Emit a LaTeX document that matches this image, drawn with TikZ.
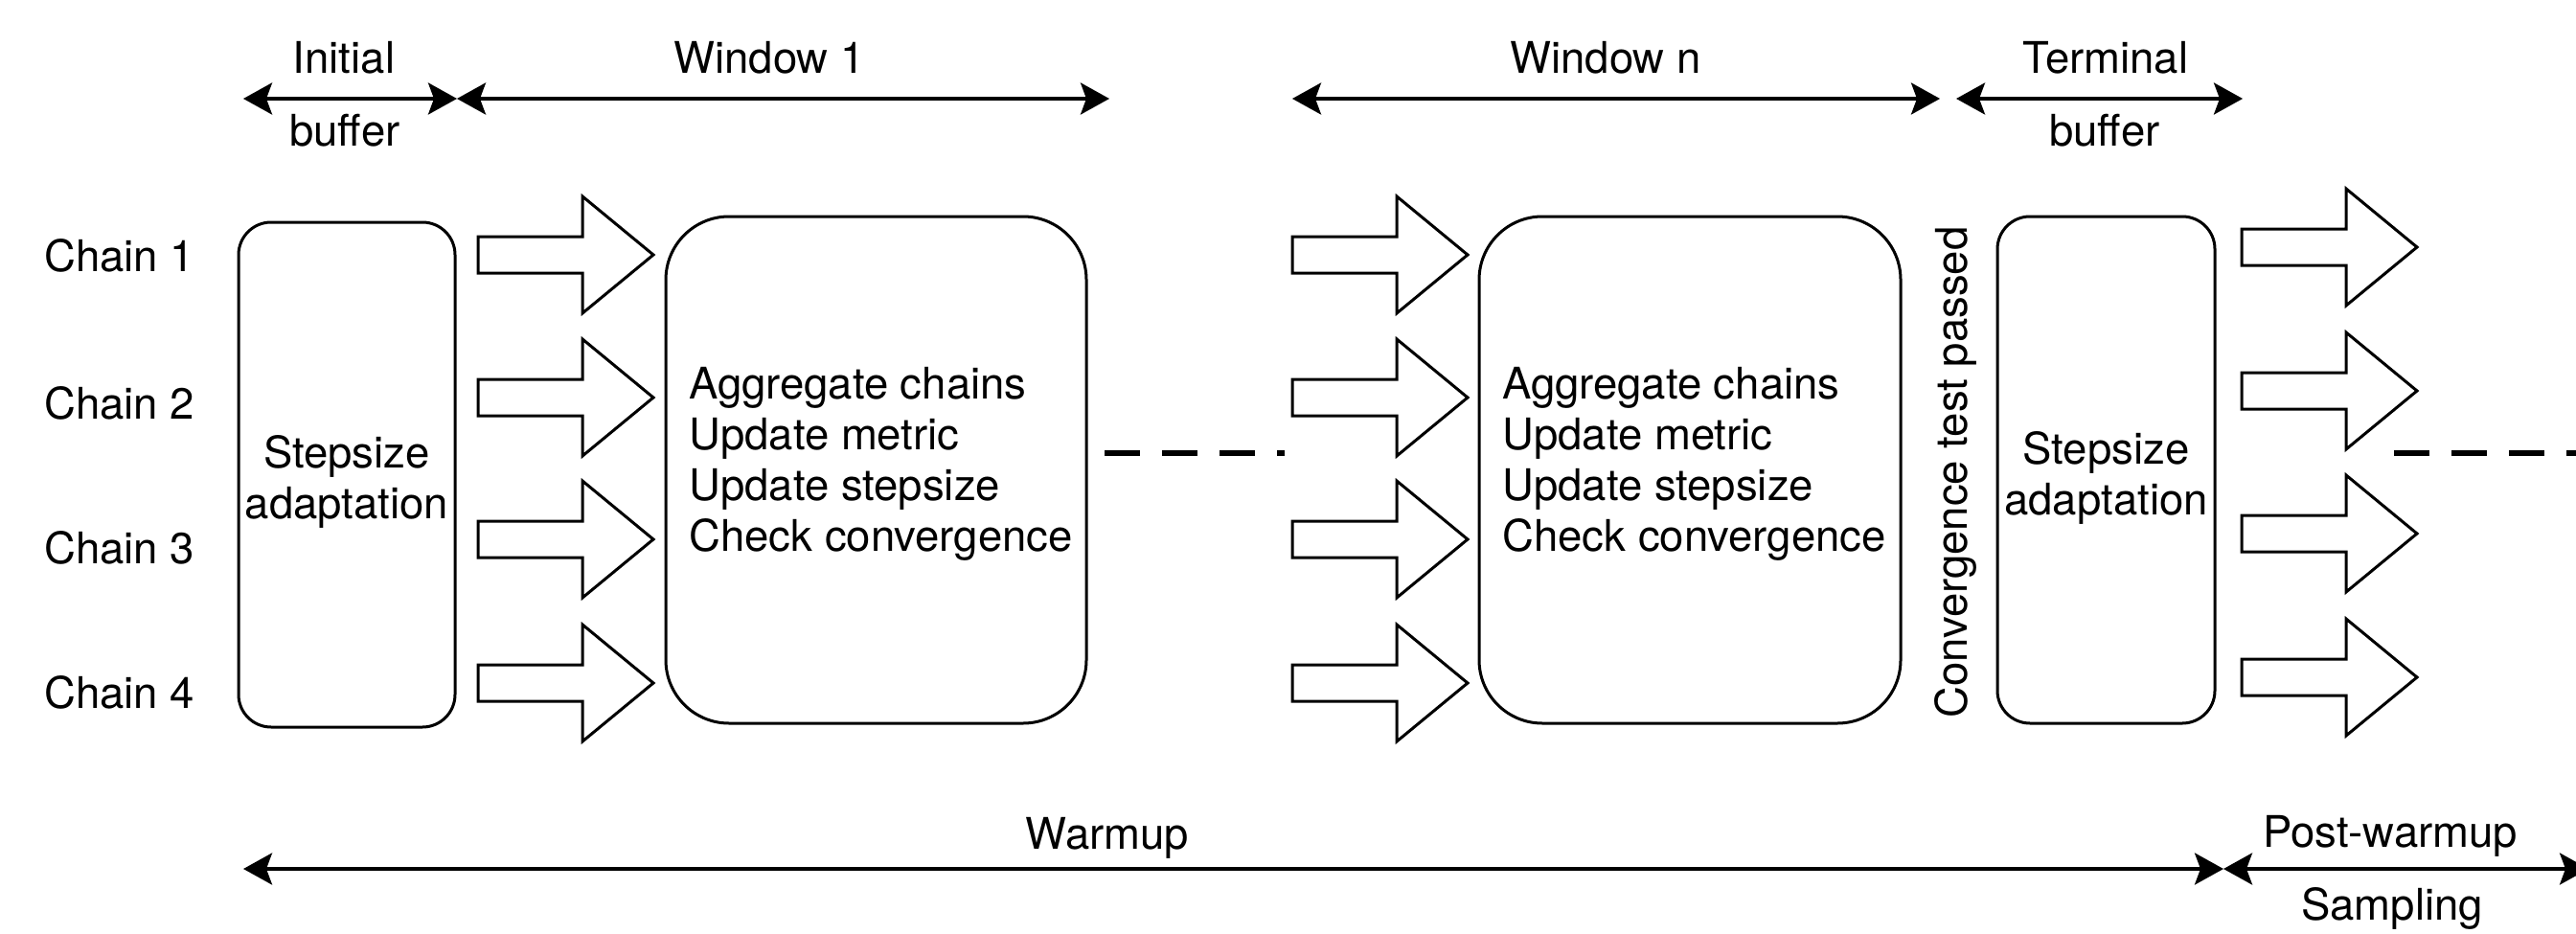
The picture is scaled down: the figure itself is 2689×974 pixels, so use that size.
\documentclass[tikz,border=0pt]{standalone}
\usepackage{fontspec}
\setmainfont{TeX Gyre Heros}
\usetikzlibrary{arrows.meta}
\tikzset{
  lbl/.style={font=\fontsize{45.5}{53}\selectfont, inner sep=0pt},
  roundbox/.style={draw, line width=3pt, inner sep=0pt, rounded corners=#1},
  dimline/.style={line width=3.5pt, {Stealth[length=30pt,width=33pt,inset=6pt]}-{Stealth[length=30pt,width=33pt,inset=6pt]}},
  dashline/.style={line width=6.5pt, dash pattern=on 37pt off 23pt},
  blockarrow/.pic={\draw[line width=3pt, line join=miter] (0,-19) -- (109,-19) -- (109,-61) -- (183,0) -- (109,61) -- (109,19) -- (0,19) -- cycle;}
}
\begin{document}
\begin{tikzpicture}[x=1pt,y=-1pt]
\useasboundingbox (0,0) rectangle (2689,974);
\clip (0,0) rectangle (2689,974);

% top dimension lines
\coordinate (ib1) at (254,103);
\coordinate (ib2) at (477,103);
\coordinate (w1b) at (1158,103);
\coordinate (wn1) at (1349,103);
\coordinate (wn2) at (2025,103);
\coordinate (tb1) at (2042,103);
\coordinate (tb2) at (2341,103);
\draw[dimline] (ib1) -- (ib2);
\draw[dimline] (ib2) -- (w1b);
\draw[dimline] (wn1) -- (wn2);
\draw[dimline] (tb1) -- (tb2);

\node[lbl, anchor=base] (tInitial) at (359,76) {Initial};
\node[lbl, anchor=base] (tBuf1) at (360,152) {buffer};
\node[lbl, anchor=base] (tW1) at (803,76) {Window 1};
\node[lbl, anchor=base] (tWn) at (1676,76) {Window n};
\node[lbl, anchor=base] (tTerm) at (2198,76) {Terminal};
\node[lbl, anchor=base] (tBuf2) at (2197,152) {buffer};

% chain labels
\node[lbl, anchor=base west] (c1) at (46,283) {Chain 1};
\node[lbl, anchor=base west] (c2) at (46,437) {Chain 2};
\node[lbl, anchor=base west] (c3) at (46,588) {Chain 3};
\node[lbl, anchor=base west] (c4) at (46,739) {Chain 4};

% boxes
\node[roundbox=34pt, minimum width=226pt, minimum height=527pt] (ibox) at (362,495.5) {};
\node[roundbox=66pt, minimum width=439pt, minimum height=529pt] (w1box) at (914.5,490.5) {};
\node[roundbox=66pt, minimum width=440pt, minimum height=529pt] (wnbox) at (1764,490.5) {};
\node[roundbox=34pt, minimum width=227pt, minimum height=529pt] (tbox) at (2198.5,490.5) {};

\node[lbl, align=center] (itext) at ([yshift=-7pt]ibox.center) {Stepsize\\adaptation};
\node[lbl, align=center] (ttext) at ([yshift=-8pt]tbox.center) {Stepsize\\adaptation};
\node[lbl, anchor=west, align=left] (w1text) at (719,484) {Aggregate chains\\Update metric\\Update stepsize\\Check convergence};
\node[lbl, anchor=west, align=left] (wntext) at (1568,484) {Aggregate chains\\Update metric\\Update stepsize\\Check convergence};

\node[lbl, rotate=90] (conv) at (2041,493) {Convergence test passed};

% block arrows
\foreach \yy in {266,415,563,713} {
  \pic at (499,\yy) {blockarrow};
  \pic at (1349,\yy) {blockarrow};
}
\foreach \yy in {258,408,557,707} {
  \pic at (2340,\yy) {blockarrow};
}

% dashed continuation lines
\draw[dashline] (1153,473) -- (1341,473);
\draw[dashline] (2499,473) -- (2700,473);

% bottom dimension lines
\coordinate (wu1) at (254,907);
\coordinate (wu2) at (2321,907);
\coordinate (pw2) at (2702,907);
\draw[dimline] (wu1) -- (wu2);
\draw[dimline] (wu2) -- (pw2);
\node[lbl, anchor=base] (tWarm) at (1156,886) {Warmup};
\node[lbl, anchor=base] (tPost) at (2495,884) {Post-warmup};
\node[lbl, anchor=base] (tSamp) at (2497,960) {Sampling};
\end{tikzpicture}
\end{document}
